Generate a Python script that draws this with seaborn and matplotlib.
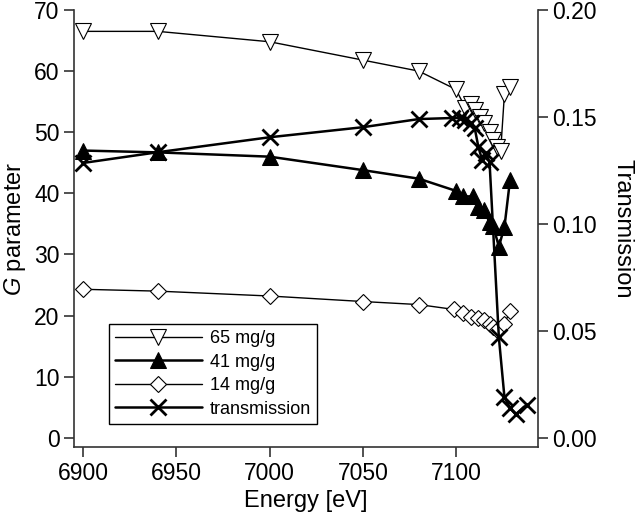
import matplotlib
matplotlib.use("Agg")
import matplotlib.pyplot as plt
import matplotlib.ticker as mticker
import pandas as pd
import seaborn as sns

# data
energy_65 = [6900, 6940, 7000, 7050, 7080, 7100, 7105, 7108, 7110, 7113, 7115, 7118, 7120, 7122, 7124, 7126, 7129]
g_65 = [66.5, 66.5, 64.8, 61.8, 60.0, 57.0, 54.0, 54.6, 53.6, 52.5, 51.5, 50.0, 48.7, 47.5, 47.0, 56.3, 57.4]

energy_41 = [6900, 6940, 7000, 7050, 7080, 7100, 7104, 7109, 7112, 7115, 7118, 7120, 7123, 7126, 7129]
g_41 = [47.0, 46.7, 46.0, 43.8, 42.4, 40.4, 39.5, 39.5, 37.8, 37.2, 35.3, 34.6, 31.3, 34.5, 42.2]

energy_14 = [6900, 6940, 7000, 7050, 7080, 7099, 7104, 7108, 7112, 7115, 7118, 7120, 7122, 7126, 7129]
g_14 = [24.3, 24.0, 23.2, 22.3, 21.8, 21.0, 20.5, 19.8, 19.6, 19.2, 18.7, 18.2, 17.6, 18.7, 20.7]

energy_tr = [6900, 6940, 7000, 7050, 7080, 7098, 7102, 7105, 7108, 7110, 7112, 7114, 7116, 7118,
             7123, 7126, 7129, 7132, 7138]
trans = [0.1285, 0.1335, 0.1405, 0.1452, 0.1490, 0.1495, 0.1495, 0.1486, 0.1470, 0.1450, 0.1360,
         0.1300, 0.1330, 0.1290, 0.0470, 0.0190, 0.0140, 0.0110, 0.0155]

x_ticks = [6900, 6950, 7000, 7050, 7100]
g_ticks = [0, 10, 20, 30, 40, 50, 60, 70]
t_ticks = [0.00, 0.05, 0.10, 0.15, 0.20]

sns.set_style("ticks")
plt.rcParams.update({
    'font.family': ['Liberation Sans', 'DejaVu Sans'],
    'mathtext.fontset': 'custom',
    'mathtext.rm': 'Liberation Sans',
    'mathtext.it': 'Liberation Sans:italic',
    'axes.edgecolor': '#333333',
    'axes.labelcolor': 'black',
    'text.color': 'black',
    'xtick.color': '#333333',
    'ytick.color': '#333333',
    'xtick.labelcolor': 'black',
    'ytick.labelcolor': 'black',
})

fig = plt.figure(figsize=(6.4, 5.25), dpi=100)
ax = fig.add_axes([0.1156, 0.1486, 0.725, 0.8324])
ax2 = ax.twinx()

df65 = pd.DataFrame({'E': energy_65, 'G': g_65})
df41 = pd.DataFrame({'E': energy_41, 'G': g_41})
df14 = pd.DataFrame({'E': energy_14, 'G': g_14})
dftr = pd.DataFrame({'E': energy_tr, 'T': trans})

sns.lineplot(data=df65, x='E', y='G', ax=ax, color='black', lw=1, estimator=None,
             marker='v', markersize=12, markerfacecolor='white', markeredgecolor='black',
             markeredgewidth=0.8, label='65 mg/g')
sns.lineplot(data=df41, x='E', y='G', ax=ax, color='black', lw=1.8, estimator=None,
             marker='^', markersize=12, markerfacecolor='black', markeredgecolor='black',
             label='41 mg/g')
sns.lineplot(data=df14, x='E', y='G', ax=ax, color='black', lw=1, estimator=None,
             marker='D', markersize=8.5, markerfacecolor='white', markeredgecolor='black',
             markeredgewidth=0.8, label='14 mg/g')
sns.lineplot(data=dftr, x='E', y='T', ax=ax2, color='black', lw=1.8, estimator=None,
             marker='x', markersize=12, markeredgewidth=2, markeredgecolor='black',
             label='transmission')

ax.set_xlim(6895, 7144)
ax.set_ylim(-1.5, 70)
ax2.set_ylim(-1.5 * 0.2 / 70, 0.20)

ax.set_xticks(x_ticks)
ax.set_yticks(g_ticks)
ax2.set_yticks(t_ticks)
ax2.yaxis.set_major_formatter(mticker.FormatStrFormatter('%.2f'))

for a in (ax, ax2):
    a.spines['top'].set_visible(False)
    a.tick_params(labelsize=16.5, length=7, width=1.2, direction='out')
    for s in a.spines.values():
        s.set_linewidth(1.2)
ax.spines['right'].set_visible(False)
ax2.spines['left'].set_visible(False)
ax2.spines['bottom'].set_visible(False)

ax.set_xlabel('Energy [eV]', fontsize=17)
ax.set_ylabel('$G$ parameter', fontsize=17, labelpad=4)
ax2.set_ylabel('Transmission', fontsize=17, rotation=270, labelpad=26)

h1, l1 = ax.get_legend_handles_labels()
h2, l2 = ax2.get_legend_handles_labels()
if ax.get_legend():
    ax.get_legend().remove()
leg = ax2.legend(h1 + h2, l1 + l2, loc='lower left', bbox_to_anchor=(0.075, 0.053),
                 borderaxespad=0, fontsize=13, handlelength=4.8, handletextpad=0.45,
                 labelspacing=0.36, borderpad=0.35,
                 fancybox=False, framealpha=1, edgecolor='black')
leg.get_frame().set_linewidth(1.0)

fig.savefig('out.png', dpi=100)
